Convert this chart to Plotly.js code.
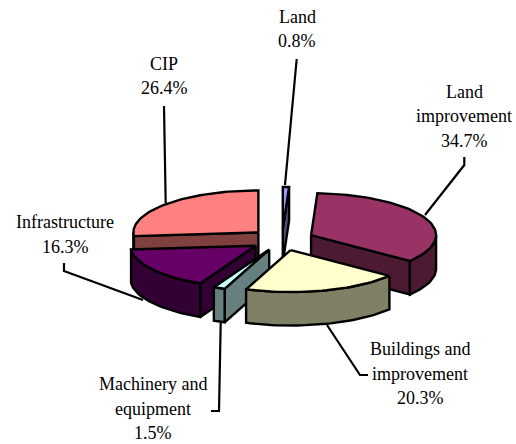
<!DOCTYPE html>
<html>
<head>
<meta charset="utf-8">
<script src="https://cdn.plot.ly/plotly-3.0.1.min.js"></script>
<style>html,body{margin:0;padding:0;background:#fff}#chart{width:516px;height:444px}</style>
</head>
<body>
<div id="chart"></div>
<script>
// Data, clockwise from 12 o'clock
const categories = ['Land', 'Land improvement', 'Buildings and improvement', 'Machinery and equipment', 'Infrastructure', 'CIP'];
const shares = [0.8, 34.7, 20.3, 1.5, 16.3, 26.4];
const labelLines = [['Land'], ['Land', 'improvement'], ['Buildings and', 'improvement'], ['Machinery and', 'equipment'], ['Infrastructure'], ['CIP']];
const topColors = ['#9999ff', '#993366', '#ffffcc', '#ccffff', '#660066', '#ff8080'];
const sideColors = ['#4d4d80', '#4d1a33', '#808066', '#668080', '#330033', '#804040'];

// Projection of the tilted, exploded pie onto the page
const CX = 282, CY = 239.7, R = 125, TILT = 0.336, DEPTH = 33.5, EXPLODE = 32;
const paintOrder = [0, 5, 1, 4, 3, 2];
const labelX = [297, 464, 420, 153, 65, 164];
const labelY = [29, 116, 373.5, 408.5, 234.5, 76];
const LINE_STEP = 24.5;
const leaders = [
  {x: [296.7, 285], y: [59, 185]},
  {x: [464.3, 464.3, 425], y: [157, 165, 215]},
  {x: [368, 360, 327], y: [375, 375, 325]},
  {x: [211, 219, 220.7], y: [411, 411, 323]},
  {x: [64, 64, 143], y: [263, 271, 300]},
  {x: [164, 165.7], y: [106, 203]}
];

const rad = d => d * Math.PI / 180;
const total = shares.reduce((a, b) => a + b, 0);
const traces = [];

function face(xs, ys, color) {
  traces.push({type: 'scatter', mode: 'lines', x: [...xs, xs[0]], y: [...ys, ys[0]], fill: 'toself',
    fillcolor: color, line: {color: '#000', width: 2.4, shape: 'linear'}, hoverinfo: 'skip', showlegend: false});
}

leaders.forEach(l => traces.push({type: 'scatter', mode: 'lines', x: l.x, y: l.y,
  line: {color: '#000', width: 2.2}, hoverinfo: 'skip', showlegend: false}));

const spans = [];
let acc = 0;
shares.forEach(v => { const a = acc / total * 360; acc += v; spans.push([a, acc / total * 360]); });

paintOrder.forEach(i => {
  const [a0, a1] = spans[i];
  const mid = rad((a0 + a1) / 2);
  const ax = CX + EXPLODE * Math.sin(mid);
  const ay = CY - EXPLODE * TILT * Math.cos(mid);
  const px = d => ax + R * Math.sin(rad(d));
  const py = d => ay - R * TILT * Math.cos(rad(d));
  // radial walls that face the viewer
  if (Math.cos(rad(a0 - 90)) < -1e-6) face([ax, px(a0), px(a0), ax], [ay, py(a0), py(a0) + DEPTH, ay + DEPTH], sideColors[i]);
  if (Math.cos(rad(a1 + 90)) < -1e-6) face([ax, px(a1), px(a1), ax], [ay, py(a1), py(a1) + DEPTH, ay + DEPTH], sideColors[i]);
  // curved rim: only the front half is visible
  const r0 = Math.max(a0, 90), r1 = Math.min(a1, 270);
  if (r1 > r0) {
    const n = Math.max(2, Math.ceil((r1 - r0) / 2));
    const ds = Array.from({length: n + 1}, (_, k) => r0 + (r1 - r0) * k / n);
    face([...ds.map(px), ...ds.slice().reverse().map(px)],
         [...ds.map(py), ...ds.slice().reverse().map(d => py(d) + DEPTH)], sideColors[i]);
  }
  // top face
  const n = Math.max(2, Math.ceil((a1 - a0) / 2));
  const ds = Array.from({length: n + 1}, (_, k) => a0 + (a1 - a0) * k / n);
  face([ax, ...ds.map(px)], [ay, ...ds.map(py)], topColors[i]);
});

const annotations = [];
categories.forEach((c, i) => {
  const lines = [...labelLines[i], shares[i].toFixed(1) + '%'];
  lines.forEach((text, k) => annotations.push({
    x: labelX[i], y: labelY[i] + (k - (lines.length - 1) / 2) * LINE_STEP,
    xref: 'x', yref: 'y', showarrow: false, xanchor: 'center', yanchor: 'middle', align: 'center', text,
    font: {family: '"Liberation Serif", "Times New Roman", serif', size: 18, color: '#000'}
  }));
});

const layout = {
  width: 516, height: 444, margin: {l: 0, r: 0, t: 0, b: 0}, showlegend: false,
  paper_bgcolor: '#fff', plot_bgcolor: '#fff',
  xaxis: {range: [0, 516], visible: false, fixedrange: true},
  yaxis: {range: [444, 0], visible: false, fixedrange: true},
  annotations
};
Plotly.newPlot('chart', traces, layout, {displayModeBar: false, staticPlot: true});
</script>
</body>
</html>
